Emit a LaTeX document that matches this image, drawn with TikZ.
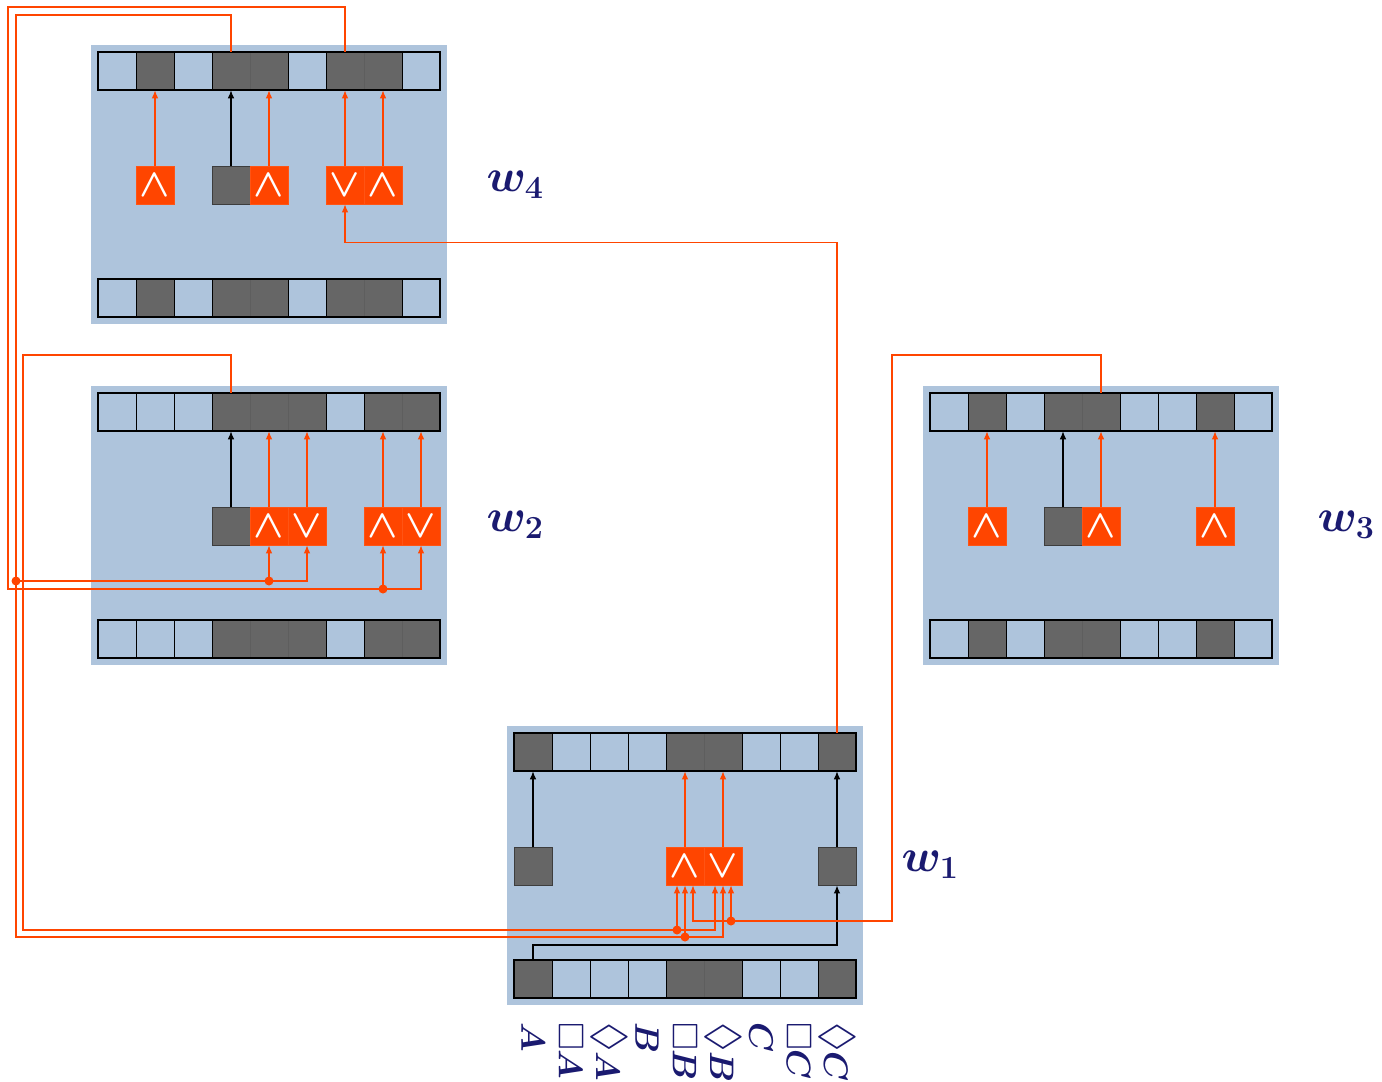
\RequirePackage{fix-cm}
\documentclass[tikz,border=0pt]{standalone}
\usepackage{graphicx}
\usepackage{amssymb}
\usepackage{bm}
\usetikzlibrary{arrows.meta}
\definecolor{panelc}{HTML}{AEC4DC}
\definecolor{darkc}{HTML}{666666}
\definecolor{orc}{HTML}{FF4500}
\definecolor{labc}{HTML}{1A1A70}
\newcommand\opand{\scalebox{1.65}{$\bm{\wedge}$}}
\newcommand\opor{\scalebox{1.65}{$\bm{\vee}$}}
\newcommand\modbox{\scalebox{1.05}{$\Box$}}
\newcommand\moddia{\scalebox{1.3}{$\Diamond$}}
\tikzset{
 panel/.style={fill=panelc},
 lightcell/.style={draw=black, fill=panelc, minimum size=38pt, inner sep=0pt, line width=0.9pt},
 darkcell/.style={draw=darkc!92!black, fill=darkc, minimum size=38pt, inner sep=0pt, line width=0.5pt},
 rowframe/.style={draw=black, line width=1.1pt},
 opbox/.style={fill=orc, draw=orc!92!white, line width=0.5pt, minimum size=38pt, inner sep=0pt, text=white, font=\fontsize{24}{24}\selectfont},
 gatebox/.style={fill=darkc, draw=darkc!60!black, line width=0.8pt, minimum size=38pt, inner sep=0pt},
 owire/.style={draw=orc, line width=1.3pt},
 oarrow/.style={owire, -{Latex[length=8pt,width=6.5pt]}},
 barrow/.style={draw=black, line width=1.1pt, -{Latex[length=8pt,width=6.5pt]}},
 dot/.style={circle, fill=orc, inner sep=0pt, minimum size=9pt},
 wlabel/.style={text=labc, font=\fontsize{46}{46}\selectfont},
 plabel/.style={text=labc, font=\fontsize{34}{34}\selectfont, rotate=-90, anchor=west, inner sep=0pt},
}
\newcommand\drawworld[5]{%
  \fill[panel] (#2,#3) rectangle ++(356,279);
  \foreach \i in {#5} {
    \node[darkcell] (#1t\i) at (#2+26+38*\i, #3+26) {};
    \node[darkcell] (#1b\i) at (#2+26+38*\i, #3+253) {};
  }
  \foreach \i in {#4} {
    \node[lightcell] (#1t\i) at (#2+26+38*\i, #3+26) {};
    \node[lightcell] (#1b\i) at (#2+26+38*\i, #3+253) {};
  }
  \draw[rowframe] (#2+7,#3+7) rectangle ++(342,38);
  \draw[rowframe] (#2+7,#3+234) rectangle ++(342,38);
}
\begin{document}
\begin{tikzpicture}[x=1pt,y=-1pt]
\useasboundingbox (0,0) rectangle (1382,1082);
% worlds
\drawworld{wf}{91}{45}{0,2,5,8}{1,3,4,6,7}
\drawworld{wb}{91}{386}{0,1,2,6}{3,4,5,7,8}
\drawworld{wc}{923}{386}{0,2,5,6,8}{1,3,4,7}
\drawworld{wa}{507}{726}{1,2,3,6,7}{0,4,5,8}
% middle blocks w4
\node[opbox] (wfm1) at (155,185) {\opand};
\node[gatebox] (wfm3) at (231,185) {};
\node[opbox] (wfm4) at (269,185) {\opand};
\node[opbox] (wfm6) at (345,185) {\opor};
\node[opbox] (wfm7) at (383,185) {\opand};
% w2
\node[gatebox] (wbm3) at (231,526) {};
\node[opbox] (wbm4) at (269,526) {\opand};
\node[opbox] (wbm5) at (307,526) {\opor};
\node[opbox] (wbm7) at (383,526) {\opand};
\node[opbox] (wbm8) at (421,526) {\opor};
% w3
\node[opbox] (wcm1) at (987,526) {\opand};
\node[gatebox] (wcm3) at (1063,526) {};
\node[opbox] (wcm4) at (1101,526) {\opand};
\node[opbox] (wcm7) at (1215,526) {\opand};
% w1
\node[gatebox] (wam0) at (533,866) {};
\node[opbox] (wam4) at (685,866) {\opand};
\node[opbox] (wam5) at (723,866) {\opor};
\node[gatebox] (wam8) at (837,866) {};
% inner arrows
\draw[oarrow] (wfm1.north) -- (wft1.south);
\draw[barrow] (wfm3.north) -- (wft3.south);
\draw[oarrow] (wfm4.north) -- (wft4.south);
\draw[oarrow] (wfm6.north) -- (wft6.south);
\draw[oarrow] (wfm7.north) -- (wft7.south);
\draw[barrow] (wbm3.north) -- (wbt3.south);
\draw[oarrow] (wbm4.north) -- (wbt4.south);
\draw[oarrow] (wbm5.north) -- (wbt5.south);
\draw[oarrow] (wbm7.north) -- (wbt7.south);
\draw[oarrow] (wbm8.north) -- (wbt8.south);
\draw[oarrow] (wcm1.north) -- (wct1.south);
\draw[barrow] (wcm3.north) -- (wct3.south);
\draw[oarrow] (wcm4.north) -- (wct4.south);
\draw[oarrow] (wcm7.north) -- (wct7.south);
\draw[barrow] (wam0.north) -- (wat0.south);
\draw[oarrow] (wam4.north) -- (wat4.south);
\draw[oarrow] (wam5.north) -- (wat5.south);
\draw[barrow] (wam8.north) -- (wat8.south);
\draw[barrow] (wab0.north) |- (837,945) -- (wam8.south);
% long wires
\draw[oarrow] (wat8.north) |- ([yshift=-38pt]wfm6.south) -- (wfm6.south);
\draw[oarrow] (wct4.north) |- (892,355) |- (693,921) -- ([xshift=8pt]wam4.south);
\draw[oarrow] (wbt3.north) |- (23,355) |- (715,930) -- ([xshift=-8pt]wam5.south);
\draw[oarrow] (wft3.north) |- (16,15) |- (723,937) -- (wam5.south);
\draw[oarrow] (wft6.north) |- (8,7) |- (421,589) -- (wbm8.south);
% junction dots
\node[dot] (da) at (731,921) {};
\node[dot] (db) at (677,930) {};
\node[dot] (dc) at (685,937) {};
\node[dot] (dd) at (16,581) {};
\node[dot] (de) at (269,581) {};
\node[dot] (df) at (383,589) {};
\draw[oarrow] (da.center) -- ([xshift=8pt]wam5.south);
\draw[oarrow] (db.center) -- ([xshift=-8pt]wam4.south);
\draw[oarrow] (dc.center) -- (wam4.south);
\draw[oarrow] (dd.center) -| (wbm5.south);
\draw[oarrow] (de.center) -- (wbm4.south);
\draw[oarrow] (df.center) -- (wbm7.south);
% world labels
\node[wlabel] (lw4) at (515,185) {$\bm{w_4}$};
\node[wlabel] (lw2) at (515,525) {$\bm{w_2}$};
\node[wlabel] (lw3) at (1346,525) {$\bm{w_3}$};
\node[wlabel] (lw1) at (930,865) {$\bm{w_1}$};
% proposition labels
\node[plabel] (p0) at (533,1022) {$\bm{A}$};
\node[plabel] (p1) at (571,1022) {\modbox$\bm{A}$};
\node[plabel] (p2) at (609,1022) {\moddia$\bm{A}$};
\node[plabel] (p3) at (647,1022) {$\bm{B}$};
\node[plabel] (p4) at (685,1022) {\modbox$\bm{B}$};
\node[plabel] (p5) at (723,1022) {\moddia$\bm{B}$};
\node[plabel] (p6) at (761,1022) {$\bm{C}$};
\node[plabel] (p7) at (799,1022) {\modbox$\bm{C}$};
\node[plabel] (p8) at (837,1022) {\moddia$\bm{C}$};
\end{tikzpicture}
\end{document}
